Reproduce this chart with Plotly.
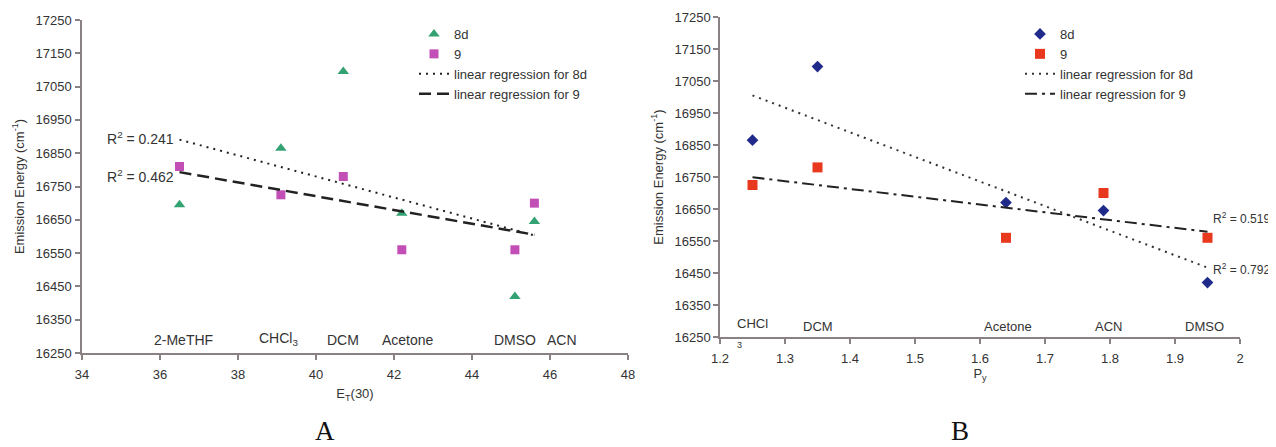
import numpy as np
import plotly.graph_objects as go

# ---------------- data ----------------
solvents_A = ["2-MeTHF", "CHCl<sub>3</sub>", "DCM", "Acetone", "DMSO", "ACN"]
et30 = [36.5, 39.1, 40.7, 42.2, 45.1, 45.6]
e8d_A = [16695, 16865, 17095, 16670, 16420, 16645]
e9_A = [16810, 16725, 16780, 16560, 16560, 16700]
label_x_A = [36.6, 39.05, 40.7, 42.35, 45.1, 46.3]

solvents_B = ["CHCl", "DCM", "Acetone", "ACN", "DMSO"]
py = [1.25, 1.35, 1.64, 1.79, 1.95]
e8d_B = [16865, 17095, 16670, 16645, 16420]
e9_B = [16725, 16780, 16560, 16700, 16560]
label_x_B = [1.25, 1.35, 1.643, 1.797, 1.945]

r2_A = ["R<sup>2</sup> = 0.241", "R<sup>2</sup> = 0.462"]
r2_B = ["R<sup>2</sup> = 0.792", "R<sup>2</sup> = 0.519"]

y_ticks = list(range(16250, 17251, 100))
x_ticks_A = [34, 36, 38, 40, 42, 44, 46, 48]
x_ticks_B = [1.2, 1.3, 1.4, 1.5, 1.6, 1.7, 1.8, 1.9, 2.0]
x_ticktext_B = ["1.2", "1.3", "1.4", "1.5", "1.6", "1.7", "1.8", "1.9", "2"]

FONT = "Liberation Sans, Arial, sans-serif"
TXT = "#333333"
AX = "#8a8282"
W, H = 1276, 447
OFF = 8  # page body margin


def pxx(x):
    return (x - OFF) / W


def pxy(y):
    return 1 - (y - OFF) / H


def fit(x, y):
    m, b = np.polyfit(x, y, 1)
    xs = np.array([min(x), max(x)])
    return xs, m * xs + b


fig = go.Figure()

# ---- panel A ----
fig.add_trace(go.Scatter(x=et30, y=e8d_A, mode="markers", name="8d",
                         marker=dict(symbol="triangle-up", size=10, color="#33a272"),
                         xaxis="x", yaxis="y", legend="legend"))
fig.add_trace(go.Scatter(x=et30, y=e9_A, mode="markers", name="9",
                         marker=dict(symbol="square", size=9, color="#c24fb6"),
                         xaxis="x", yaxis="y", legend="legend"))
xa, ya = fit(et30, e8d_A)
fig.add_trace(go.Scatter(x=xa, y=ya, mode="lines", name="linear regression for 8d",
                         line=dict(color="#222222", width=2, dash="2px,5px"),
                         xaxis="x", yaxis="y", legend="legend"))
xa, ya = fit(et30, e9_A)
fig.add_trace(go.Scatter(x=xa, y=ya, mode="lines", name="linear regression for 9",
                         line=dict(color="#222222", width=2.5, dash="12px,6px"),
                         xaxis="x", yaxis="y", legend="legend"))

# ---- panel B ----
fig.add_trace(go.Scatter(x=py, y=e8d_B, mode="markers", name="8d",
                         marker=dict(symbol="diamond", size=9, color="#1f2a8a"),
                         xaxis="x2", yaxis="y2", legend="legend2"))
fig.add_trace(go.Scatter(x=py, y=e9_B, mode="markers", name="9",
                         marker=dict(symbol="square", size=10, color="#e8391f"),
                         xaxis="x2", yaxis="y2", legend="legend2"))
xb, yb = fit(py, e8d_B)
fig.add_trace(go.Scatter(x=xb, y=yb, mode="lines", name="linear regression for 8d",
                         line=dict(color="#333333", width=2, dash="2px,5px"),
                         xaxis="x2", yaxis="y2", legend="legend2"))
xb, yb = fit(py, e9_B)
fig.add_trace(go.Scatter(x=xb, y=yb, mode="lines", name="linear regression for 9",
                         line=dict(color="#222222", width=2, dash="12px,5px,3px,5px"),
                         xaxis="x2", yaxis="y2", legend="legend2"))

ann = []
for name, xv in zip(solvents_A, label_x_A):
    ann.append(dict(x=xv, y=16258, xref="x", yref="y", text=name, showarrow=False,
                    yanchor="bottom", font=dict(size=14, color=TXT, family=FONT)))
for name, xv in zip(solvents_B, label_x_B):
    yv = 16264 if name == "CHCl" else 16252
    ann.append(dict(x=xv, y=yv, xref="x2", yref="y2", text=name, showarrow=False,
                    yanchor="bottom", font=dict(size=13, color=TXT, family=FONT)))
ann.append(dict(x=1.23, y=16250, xref="x2", yref="y2", text="3", showarrow=False,
                yanchor="top", yshift=-1, font=dict(size=9, color=TXT, family=FONT)))

# R^2 labels
ann.append(dict(x=et30[0], y=16896, xref="x", yref="y", text=r2_A[0], showarrow=False,
                xanchor="right", xshift=-4, font=dict(size=14, color=TXT, family=FONT)))
ann.append(dict(x=et30[0], y=16782, xref="x", yref="y", text=r2_A[1], showarrow=False,
                xanchor="right", xshift=-4, font=dict(size=14, color=TXT, family=FONT)))
ann.append(dict(x=py[-1], y=16462, xref="x2", yref="y2", text=r2_B[0], showarrow=False,
                xanchor="left", xshift=3, font=dict(size=12, color=TXT, family=FONT)))
ann.append(dict(x=py[-1], y=16623, xref="x2", yref="y2", text=r2_B[1], showarrow=False,
                xanchor="left", xshift=3, font=dict(size=12, color=TXT, family=FONT)))

# panel letters
SERIF = "Liberation Serif, Times New Roman, serif"
ann.append(dict(x=pxx(325), y=pxy(431), xref="paper", yref="paper", text="A",
                xanchor="center", yanchor="middle", showarrow=False,
                font=dict(size=27, color="#111111", family=SERIF)))
ann.append(dict(x=pxx(960), y=pxy(431), xref="paper", yref="paper", text="B",
                xanchor="center", yanchor="middle", showarrow=False,
                font=dict(size=27, color="#111111", family=SERIF)))

axis_common = dict(showgrid=False, zeroline=False, showline=True, linecolor=AX, linewidth=1.5,
                   ticks="outside", ticklen=5, tickcolor=AX, tickwidth=1.5, automargin=False,
                   tickfont=dict(size=13, color=TXT, family=FONT))

yaxis_common = dict(axis_common, range=[16250, 17250], tickvals=y_ticks, tickformat="d",
                    title=dict(text="Emission Energy (cm<sup>-1</sup>)", standoff=8,
                               font=dict(size=13, color=TXT, family=FONT)))

fig.update_layout(
    width=W, height=H,
    margin=dict(l=0, r=0, t=0, b=0, autoexpand=False),
    paper_bgcolor="white", plot_bgcolor="white",
    font=dict(family=FONT, color=TXT),
    xaxis=dict(axis_common, domain=[pxx(82), pxx(628)], range=[34, 48], tickvals=x_ticks_A,
               anchor="y", ticklabelstandoff=4,
               title=dict(text="E<sub>T</sub>(30)", standoff=8, font=dict(size=13, color=TXT, family=FONT))),
    yaxis=dict(yaxis_common, domain=[pxy(353), pxy(20)], anchor="x", ticklabelstandoff=1),
    xaxis2=dict(axis_common, domain=[pxx(720), pxx(1240)], range=[1.2, 2.0], tickvals=x_ticks_B,
                ticktext=x_ticktext_B, anchor="y2", ticklabelstandoff=4,
                title=dict(text="P<sub>y</sub>", standoff=3, font=dict(size=13, color=TXT, family=FONT))),
    yaxis2=dict(yaxis_common, domain=[pxy(337), pxy(17)], anchor="x2", ticklabelstandoff=0),
    legend=dict(x=pxx(414), y=pxy(19), xanchor="left", yanchor="top",
                bgcolor="rgba(0,0,0,0)", font=dict(size=13, color=TXT, family=FONT), itemwidth=30),
    legend2=dict(x=pxx(1020), y=pxy(19), xanchor="left", yanchor="top",
                 bgcolor="rgba(0,0,0,0)", font=dict(size=13, color=TXT, family=FONT), itemwidth=30),
    annotations=ann,
    showlegend=True,
)

fig.write_html("out.html")
